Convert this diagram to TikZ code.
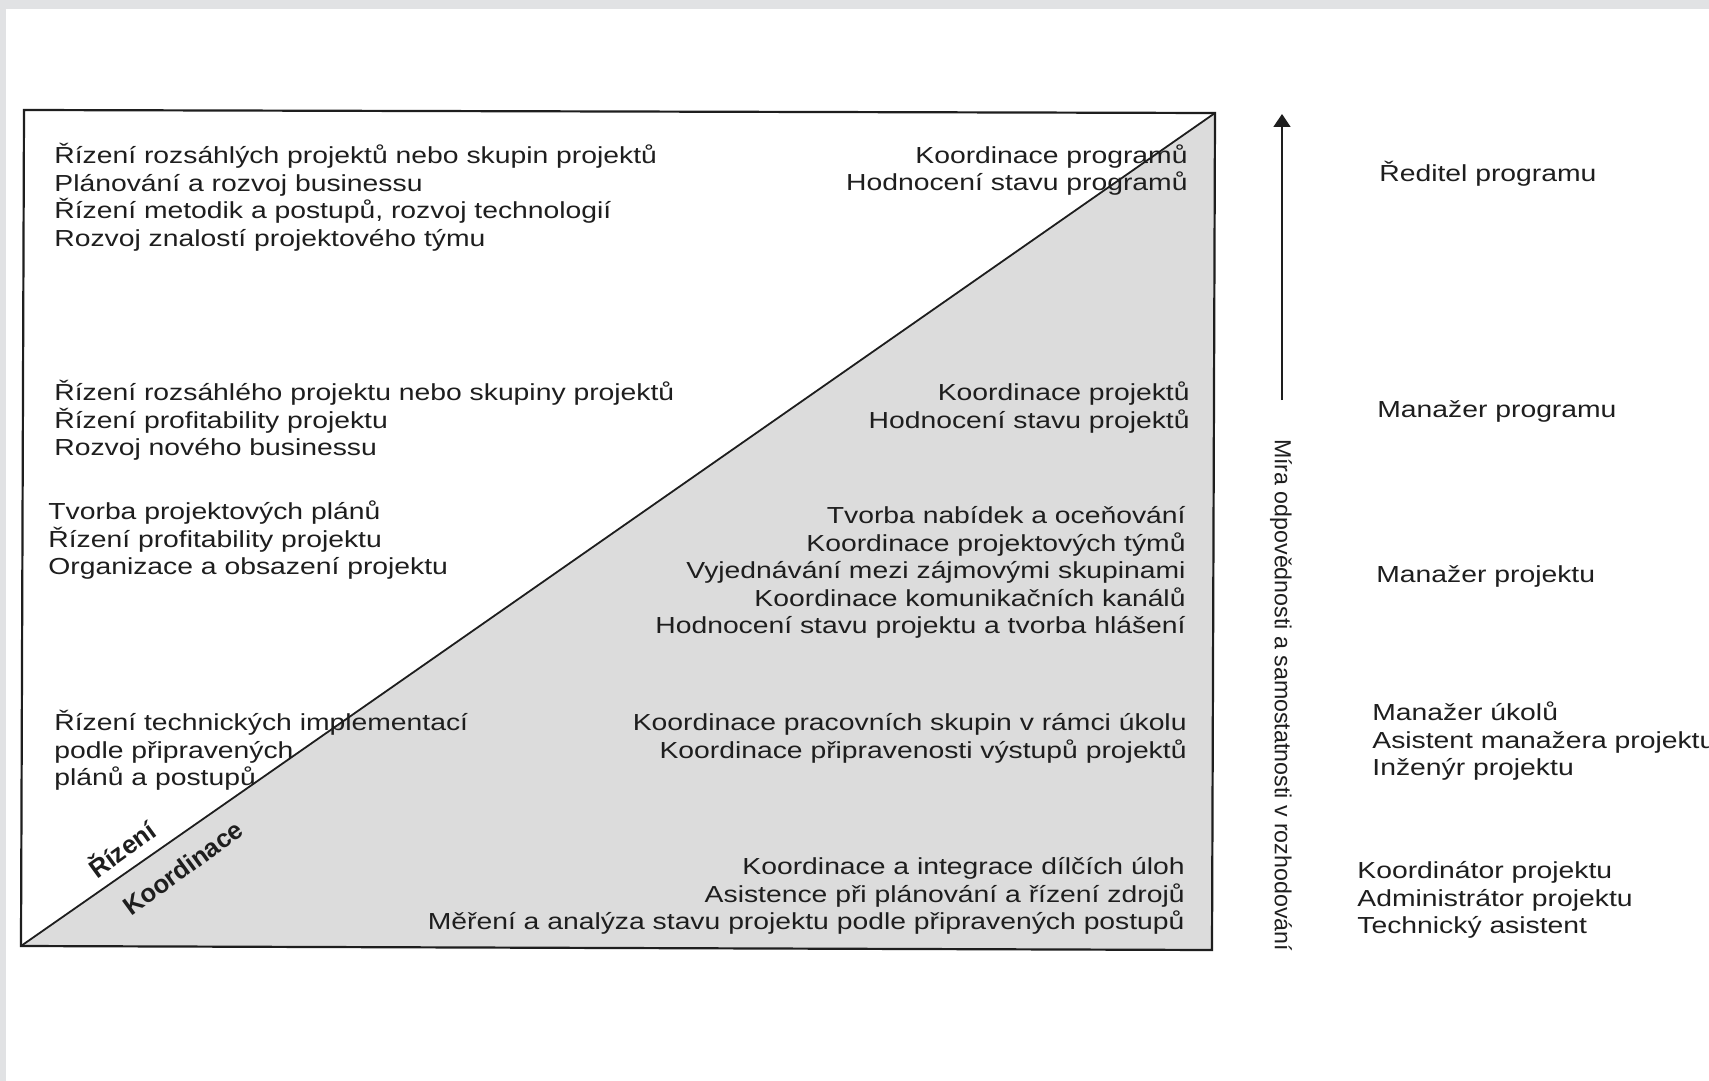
\documentclass[tikz,border=0pt]{standalone}
\usepackage{fontspec}
\setmainfont[FakeStretch=1.22]{Liberation Sans}
\newfontfamily\plainsans{Liberation Sans}
\usetikzlibrary{arrows.meta}
\definecolor{pagegray}{HTML}{E1E2E4}
\definecolor{ink}{HTML}{1E1E1E}
\definecolor{stipple}{HTML}{DCDCDC}
\newcommand{\tstrut}{\rule{0pt}{12pt}}
\begin{document}
\begin{tikzpicture}[x=0.5pt,y=-0.5pt,
  txt/.style={font={\fontsize{11.6}{13.8}\selectfont}, text=ink, inner sep=0pt},
  lblock/.style={txt, align=left, anchor=north west},
  rblock/.style={txt, align=right, anchor=north east},
  diaglbl/.style={font={\plainsans\bfseries\fontsize{12.8}{14}\selectfont}, text=ink, inner sep=0pt, rotate=36},
  frame/.style={draw=ink, line width=1.1pt, line join=miter},
  axisarrow/.style={draw=ink, line width=0.9pt, -{Triangle[length=6.5pt,width=8.5pt]}}]
% page
\fill[pagegray] (0,0) rectangle (1709,1081);
\fill[white] (5.5,9.5) rectangle (1709,1081);
\useasboundingbox (0,0) rectangle (1709,1081);
% frame corners
\coordinate (tl) at (24,110);
\coordinate (tr) at (1215,113);
\coordinate (br) at (1212,950);
\coordinate (bl) at (21,946);
\fill[stipple] (bl) -- (tr) -- (br) -- cycle;
\draw[draw=ink, line width=0.9pt] (bl) -- (tr);
\draw[frame] (tl) -- (tr) -- (br) -- (bl) -- cycle;
% left blocks
\node[lblock] (L1) at (54,139) {\tstrut Řízení rozsáhlých projektů nebo skupin projektů\\Plánování a rozvoj businessu\\Řízení metodik a postupů, rozvoj technologií\\Rozvoj znalostí projektového týmu};
\node[lblock] (L2) at (54,376) {\tstrut Řízení rozsáhlého projektu nebo skupiny projektů\\Řízení profitability projektu\\Rozvoj nového businessu};
\node[lblock] (L3) at (48,495) {\tstrut Tvorba projektových plánů\\Řízení profitability projektu\\Organizace a obsazení projektu};
\node[lblock] (L4) at (54,706) {\tstrut Řízení technických implementací\\podle připravených\\plánů a postupů};
% right blocks
\node[rblock] (R1) at (1188,139) {\tstrut Koordinace programů\\Hodnocení stavu programů};
\node[rblock] (R2) at (1190,376) {\tstrut Koordinace projektů\\Hodnocení stavu projektů};
\node[rblock] (R3) at (1186,499) {\tstrut Tvorba nabídek a oceňování\\Koordinace projektových týmů\\Vyjednávání mezi zájmovými skupinami\\Koordinace komunikačních kanálů\\Hodnocení stavu projektu a tvorba hlášení};
\node[rblock] (R4) at (1187,706) {\tstrut Koordinace pracovních skupin v rámci úkolu\\Koordinace připravenosti výstupů projektů};
\node[rblock] (R5) at (1185,850) {\tstrut Koordinace a integrace dílčích úloh\\Asistence při plánování a řízení zdrojů\\Měření a analýza stavu projektu podle připravených postupů};
% diagonal labels
\node[diaglbl] (rizeni) at (121,848) {Řízení};
\node[diaglbl] (koord) at (183,868) {Koordinace};
% axis
\coordinate (abot) at (1282,400);
\coordinate (atop) at (1282,114);
\draw[axisarrow] (abot) -- (atop);
\node[font={\plainsans\fontsize{11.6}{13.8}\selectfont}, text=ink, inner sep=0pt, rotate=-90] (axislbl) at (1281,695) {Míra odpovědnosti a samostatnosti v rozhodování};
% roles
\node[lblock] (P1) at (1379,157) {\tstrut Ředitel programu};
\node[lblock] (P2) at (1377,393) {\tstrut Manažer programu};
\node[lblock] (P3) at (1376,558) {\tstrut Manažer projektu};
\node[lblock] (P4) at (1372,696) {\tstrut Manažer úkolů\\Asistent manažera projektu\\Inženýr projektu};
\node[lblock] (P5) at (1357,854) {\tstrut Koordinátor projektu\\Administrátor projektu\\Technický asistent};
\end{tikzpicture}
\end{document}
